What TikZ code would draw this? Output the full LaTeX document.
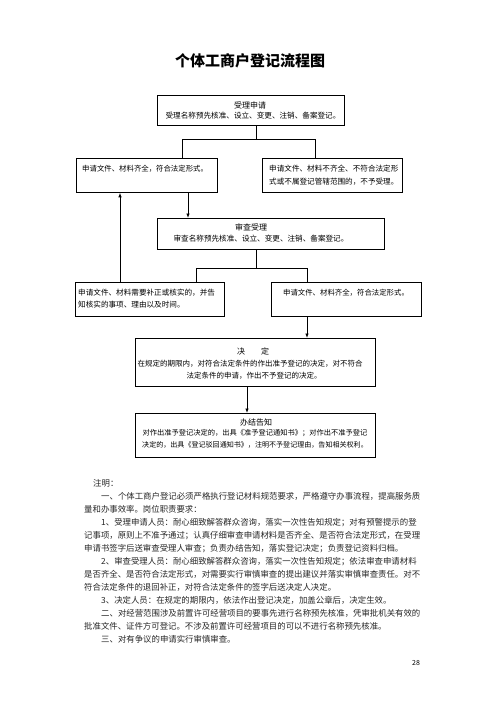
\documentclass[tikz,border=0pt]{standalone}
\usepackage{fontspec}
\setmainfont{Noto Sans CJK SC}
\usetikzlibrary{arrows.meta}
\tikzset{
  box/.style={draw, line width=0.8pt, inner sep=0pt, anchor=north west},
  bt/.style={font=\fontsize{7.6}{12}\selectfont, inner sep=0pt},
  bth/.style={font=\fontsize{8}{12}\selectfont, inner sep=0pt},
  note/.style={font=\fontsize{8.4}{13}\selectfont, inner sep=0pt, anchor=west, text=black!85},
  conn/.style={line width=0.8pt},
  arr/.style={conn, -{Latex[length=4.5pt,width=3.5pt]}},
}
\begin{document}
\begin{tikzpicture}[x=1pt,y=-1pt]
\useasboundingbox (0,0) rectangle (496,702);
\fill[white] (0,0) rectangle (496,702);
\node[font=\fontsize{15}{18}\selectfont\bfseries, inner sep=0pt] (title) at (250,61) {个体工商户登记流程图};
% boxes
\node[box, minimum width=187pt, minimum height=30pt] (b1) at (157,95) {};
\node[box, minimum width=141pt, minimum height=34pt] (b2) at (76,158) {};
\node[box, minimum width=140pt, minimum height=34pt] (b3) at (262,158) {};
\node[box, minimum width=227pt, minimum height=31pt] (b4) at (157,218) {};
\node[box, minimum width=149pt, minimum height=34pt] (b5) at (75,282) {};
\node[box, minimum width=150pt, minimum height=34pt] (b6) at (271,282) {};
\node[box, minimum width=240pt, minimum height=48pt] (b7) at (135,338) {};
\node[box, minimum width=240pt, minimum height=44pt] (b8) at (135,413) {};
% box texts
\node[bth] (t1a) at (250,105) {受理申请};
\node[bt] (t1b) at (253,116) {受理名称预先核准、设立、变更、注销、备案登记。};
\node[bt, anchor=west, font=\fontsize{7.4}{12}\selectfont] (t2) at (82,169) {申请文件、材料齐全，符合法定形式。};
\node[bt, anchor=west] (t3a) at (269,169) {申请文件、材料不齐全、不符合法定形};
\node[bt, anchor=west] (t3b) at (269,182) {式或不属登记管辖范围的，不予受理。};
\node[bth] (t4a) at (251,227) {审查受理};
\node[bt] (t4b) at (261,239) {审查名称预先核准、设立、变更、注销、备案登记。};
\node[bt, anchor=west] (t5a) at (78,293) {申请文件、材料需要补正或核实的，并告};
\node[bt, anchor=west] (t5b) at (78,305) {知核实的事项、理由以及时间。};
\node[bt, font=\fontsize{7.4}{12}\selectfont] (t6) at (346,293) {申请文件、材料齐全，符合法定形式。};
\node[bth] (t7a) at (253,351) {决\hspace{2em}定};
\node[bt, font=\fontsize{7.5}{12}\selectfont] (t7b) at (250,364) {在规定的期限内，对符合法定条件的作出准予登记的决定，对不符合};
\node[bt, font=\fontsize{7.5}{12}\selectfont] (t7c) at (254,376) {法定条件的申请，作出不予登记的决定。};
\node[bth] (t8a) at (256,422) {办结告知};
\node[bt, font=\fontsize{7.25}{12}\selectfont] (t8b) at (255,433) {对作出准予登记决定的，出具《准予登记通知书》；对作出不准予登记};
\node[bt, font=\fontsize{7.05}{12}\selectfont] (t8c) at (255,445) {决定的，出具《登记驳回通知书》，注明不予登记理由，告知相关权利。};
% connectors
\coordinate (j1) at (256,139);
\coordinate (j1l) at (182,139);
\coordinate (j1r) at (315,139);
\draw[conn] (b1.south -| j1) -- (j1);
\draw[conn] (j1l) -- (j1r);
\draw[conn] (j1l) -- (j1l |- b2.north);
\draw[conn] (j1r) -- (j1r |- b3.north);
\coordinate (a1) at (188,0);
\draw[arr] (b2.south -| a1) -- (b4.north -| a1);
\coordinate (a2) at (120,0);
\draw[arr] (b5.north -| a2) -- (b2.south -| a2);
\coordinate (j2) at (256,268);
\coordinate (j2l) at (196,268);
\coordinate (j2r) at (307,268);
\draw[conn] (b4.south -| j2) -- (j2);
\draw[conn] (j2l) -- (j2r);
\draw[conn] (j2l) -- (j2l |- b5.north);
\draw[conn] (j2r) -- (j2r |- b6.north);
\draw[arr] (b6.south -| j2r) -- (b7.north -| j2r);
\coordinate (a3) at (247,0);
\draw[arr] (b7.south -| a3) -- (b8.north -| a3);
% notes
\node[note] (n0) at (93,483) {注明：};
\node[note] (n1) at (101,496) {一、个体工商户登记必须严格执行登记材料规范要求，严格遵守办事流程，提高服务质};
\node[note] (n2) at (84,509) {量和办事效率。岗位职责要求：};
\node[note] (n3) at (101,522.5) {1、受理申请人员：耐心细致解答群众咨询，落实一次性告知规定；对有预警提示的登};
\node[note] (n4) at (84,535.5) {记事项，原则上不准予通过；认真仔细审查申请材料是否齐全、是否符合法定形式，在受理};
\node[note] (n5) at (84,548.5) {申请书签字后送审查受理人审查；负责办结告知，落实登记决定；负责登记资料归档。};
\node[note] (n6) at (101,561.5) {2、审查受理人员：耐心细致解答群众咨询，落实一次性告知规定；依法审查申请材料};
\node[note] (n7) at (84,574.5) {是否齐全、是否符合法定形式，对需要实行审慎审查的提出建议并落实审慎审查责任。对不};
\node[note] (n8) at (84,587.5) {符合法定条件的退回补正，对符合法定条件的签字后送决定人决定。};
\node[note] (n9) at (101,600.5) {3、决定人员：在规定的期限内，依法作出登记决定，加盖公章后，决定生效。};
\node[note] (n10) at (101,613.5) {二、对经营范围涉及前置许可经营项目的要事先进行名称预先核准，凭审批机关有效的};
\node[note] (n11) at (84,626.5) {批准文件、证件方可登记。不涉及前置许可经营项目的可以不进行名称预先核准。};
\node[note] (n12) at (101,639.5) {三、对有争议的申请实行审慎审查。};
\node[font=\fontsize{7}{8}\selectfont, inner sep=0pt] (pg) at (416,663) {28};
\end{tikzpicture}
\end{document}
